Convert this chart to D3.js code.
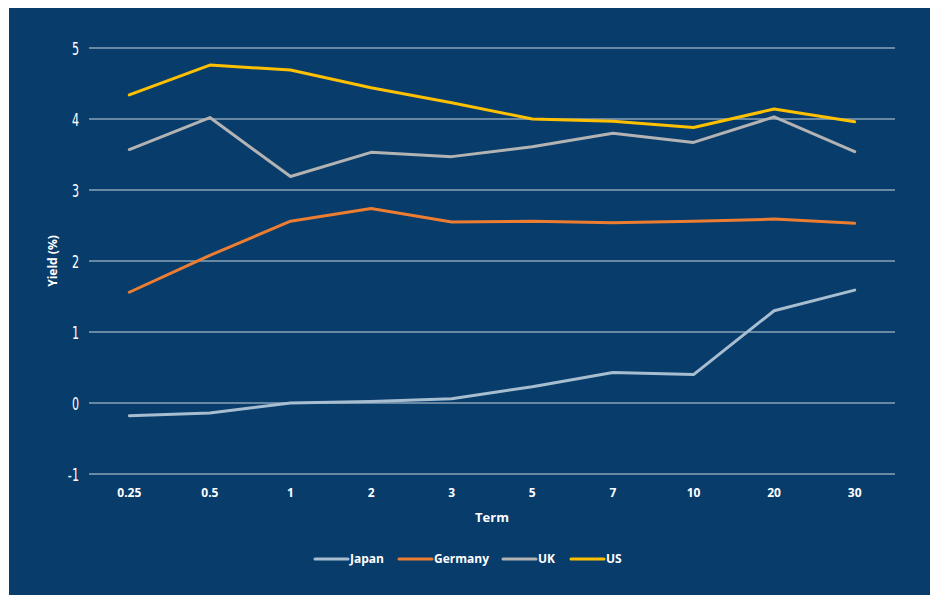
<!DOCTYPE html>
<html>
<head>
<meta charset="utf-8">
<script src="https://cdn.jsdelivr.net/npm/d3@7"></script>
<style>
	body { margin: 0; background: #ffffff; }
	svg { display: block; }
</style>
</head>
<body>
<svg id="chart"></svg>
<script>
// ========== DATA ==========
var terms = ['0.25', '0.5', '1', '2', '3', '5', '7', '10', '20', '30'];
var yTicks = [-1, 0, 1, 2, 3, 4, 5];
var seriesNames = ['Japan', 'Germany', 'UK', 'US'];

var japan = [-0.18, -0.14, 0.00, 0.02, 0.06, 0.23, 0.43, 0.40, 1.30, 1.59];
var germany = [1.56, 2.08, 2.56, 2.74, 2.55, 2.56, 2.54, 2.56, 2.59, 2.53];
var uk = [3.57, 4.02, 3.19, 3.53, 3.47, 3.61, 3.80, 3.67, 4.03, 3.54];
var us = [4.34, 4.76, 4.69, 4.44, 4.23, 4.00, 3.97, 3.88, 4.14, 3.96];

drawChart();

function drawChart() {
	// ========== CONSTANTS ==========
	var width = 930;
	var height = 595;
	var bg = '#083c6b';
	var text_color = '#ffffff';
	var grid_color = '#c9d3dd';
	var colors = {
		Japan: '#a7bdd0',
		Germany: '#ed7d31',
		UK: '#b3b3b3',
		US: '#ffc000'
	};
	var values = { Japan: japan, Germany: germany, UK: uk, US: us };

	var svg = d3.select('svg#chart')
		.attr('width', width)
		.attr('height', height);

	// panel
	svg.append('rect')
		.attr('x', 9)
		.attr('y', 8)
		.attr('width', width - 9)
		.attr('height', height - 8)
		.attr('fill', bg);

	// scales
	var x = d3.scaleBand()
		.domain(terms)
		.range([89, 895]);
	var y = d3.scaleLinear()
		.domain([-1, 5])
		.range([474, 48]);

	// gridlines
	svg.append('g')
		.selectAll('line')
		.data(yTicks)
		.enter().append('line')
			.attr('x1', 89)
			.attr('x2', 895)
			.attr('y1', function(d) { return y(d); })
			.attr('y2', function(d) { return y(d); })
			.attr('stroke', grid_color)
			.attr('stroke-width', 1.2);

	// y axis labels (narrow, tall digits)
	var yAxis = svg.append('g')
		.attr('transform', 'translate(79,0)')
		.call(d3.axisLeft(y).tickValues(yTicks).tickSize(0).tickPadding(0)
			.tickFormat(function(d) { return d < 0 ? '-' + Math.abs(d) : d; }));
	yAxis.select('.domain').remove();
	yAxis.selectAll('text')
		.attr('x', 0)
		.attr('fill', text_color)
		.attr('dy', '0.36em')
		.attr('transform', 'scale(0.62,1)')
		.style('font-family', '"DejaVu Sans", sans-serif')
		.style('font-size', '18px');

	// x axis labels
	var xAxis = svg.append('g')
		.attr('transform', 'translate(0,474)')
		.call(d3.axisBottom(x).tickSize(0).tickPadding(14));
	xAxis.select('.domain').remove();
	xAxis.selectAll('text')
		.attr('fill', text_color)
		.style('font-family', '"Open Sans", sans-serif')
		.style('font-weight', 'bold')
		.style('font-size', '12px');

	// axis titles
	svg.append('text')
		.attr('x', 492)
		.attr('y', 522)
		.attr('text-anchor', 'middle')
		.attr('fill', text_color)
		.style('font-family', '"Open Sans", sans-serif')
		.style('font-weight', 'bold')
		.style('font-size', '13px')
		.text('Term');

	svg.append('text')
		.attr('transform', 'translate(57,261)rotate(-90)')
		.attr('text-anchor', 'middle')
		.attr('fill', text_color)
		.style('font-family', '"Open Sans", sans-serif')
		.style('font-weight', 'bold')
		.style('font-size', '12px')
		.text('Yield (%)');

	// lines
	var line = d3.line()
		.x(function(d, i) { return x(terms[i]) + x.bandwidth() / 2; })
		.y(function(d) { return y(d); });

	svg.append('g')
		.selectAll('path')
		.data(seriesNames)
		.enter().append('path')
			.attr('d', function(name) { return line(values[name]); })
			.attr('fill', 'none')
			.attr('stroke', function(name) { return colors[name]; })
			.attr('stroke-width', 3)
			.attr('stroke-linejoin', 'round')
			.attr('stroke-linecap', 'round');

	// legend
	var legendX = [315, 399, 503, 571];
	var legend = svg.append('g')
		.selectAll('g')
		.data(seriesNames)
		.enter().append('g')
			.attr('transform', function(d, i) { return 'translate(' + legendX[i] + ',559)'; });

	legend.append('line')
		.attr('x1', 0)
		.attr('x2', 33)
		.attr('stroke', function(d) { return colors[d]; })
		.attr('stroke-width', 3)
		.attr('stroke-linecap', 'round');

	legend.append('text')
		.attr('x', 35)
		.attr('dy', '0.36em')
		.attr('fill', text_color)
		.style('font-family', '"Open Sans", sans-serif')
		.style('font-weight', 'bold')
		.style('font-size', '12px')
		.text(function(d) { return d; });
}
</script>
</body>
</html>
